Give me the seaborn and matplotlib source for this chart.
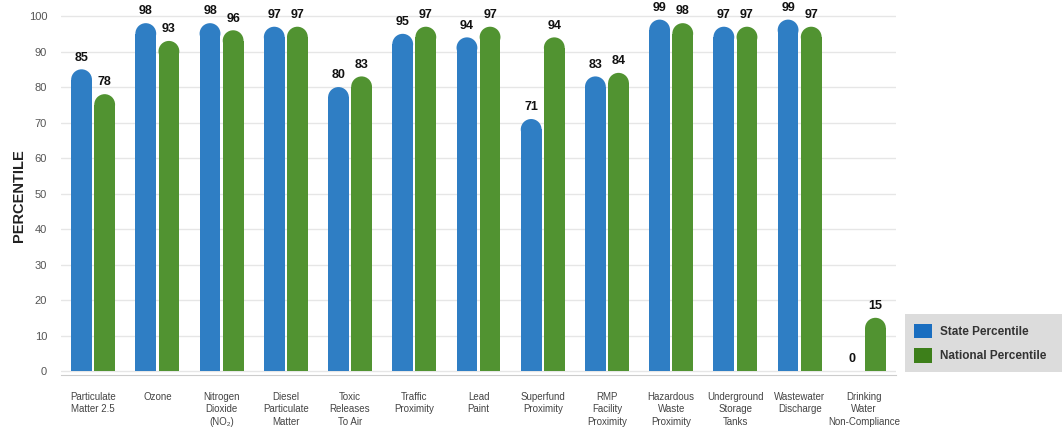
import numpy as np
import pandas as pd
import matplotlib
matplotlib.use("Agg")
import matplotlib.pyplot as plt
import seaborn as sns
from matplotlib.patches import Ellipse, Patch

# ---- data ----
categories = [
    "Particulate\nMatter 2.5", "Ozone", "Nitrogen\nDioxide\n(NO\u2082)",
    "Diesel\nParticulate\nMatter", "Toxic\nReleases\nTo Air", "Traffic\nProximity",
    "Lead\nPaint", "Superfund\nProximity", "RMP\nFacility\nProximity",
    "Hazardous\nWaste\nProximity", "Underground\nStorage\nTanks",
    "Wastewater\nDischarge", "Drinking\nWater\nNon-Compliance",
]
state_pct = [85, 98, 98, 97, 80, 95, 94, 71, 83, 99, 97, 99, 0]
national_pct = [78, 93, 96, 97, 83, 97, 97, 94, 84, 98, 97, 97, 15]
series_names = ["State Percentile", "National Percentile"]
yticks = list(range(0, 101, 10))

bar_colors = ["#2f7ec4", "#519331"]
legend_colors = ["#1a6ec0", "#3d7f1a"]

df = pd.DataFrame({
    "category": categories * 2,
    "value": state_pct + national_pct,
    "series": [series_names[0]] * len(categories) + [series_names[1]] * len(categories),
})

sns.set_style("white")
plt.rcParams["font.family"] = ["Liberation Sans", "DejaVu Sans"]

fig = plt.figure(figsize=(10.62, 4.30), dpi=100)
ax = fig.add_axes([61 / 1062, (430 - 375.3) / 430, 835 / 1062, (375.3 - 15) / 430])

sns.barplot(data=df, x="category", y="value", hue="series", palette=bar_colors,
            width=0.72, gap=0.1, legend=False, ax=ax, saturation=1, linewidth=0)

ax.set_xlim(-0.5, len(categories) - 0.5)
ax.set_ylim(-1.2, 100.3)

# round the bar tops
px_x = ax.transData.transform([(1, 0)])[0][0] - ax.transData.transform([(0, 0)])[0][0]
px_y = ax.transData.transform([(0, 1)])[0][1] - ax.transData.transform([(0, 0)])[0][1]
for cont, col in zip(ax.containers, bar_colors):
    for bar in cont:
        v = bar.get_height()
        x = bar.get_x()
        w = bar.get_width()
        cx = x + w / 2
        if v > 0:
            ry = (w * px_x / 2) / px_y
            bar.set_height(max(v - ry, 0))
            ax.add_patch(Ellipse((cx, v - ry), w, 2 * ry, facecolor=col,
                                 edgecolor="none", linewidth=0, zorder=bar.get_zorder()))
        ax.text(cx, v + 1.6, f"{v:.0f}", ha="center", va="bottom",
                fontsize=9, fontweight="bold", color="#111111")

# grid & axes
ax.set_yticks(yticks)
ax.yaxis.grid(True, color="#e6e6e6", linewidth=1)
ax.set_axisbelow(True)
for s in ["top", "right", "left"]:
    ax.spines[s].set_visible(False)
ax.spines["bottom"].set_color("#cccccc")
ax.tick_params(axis="y", length=0, labelsize=8, labelcolor="#555555", pad=10)
ax.tick_params(axis="x", which="major", length=0, labelsize=7, labelcolor="#444444", pad=12)
ax.set_xticks(range(len(categories)))
ax.set_xticklabels(categories, linespacing=1.3)
ax.set_xticks(np.arange(-0.5, len(categories) - 0.4, 1), minor=True)
ax.tick_params(axis="x", which="minor", length=6, color="#cccccc", width=1)
ax.set_xlabel("")
ax.set_ylabel("PERCENTILE", fontsize=10.5, fontweight="bold", color="#222222")
ax.yaxis.set_label_coords(-0.042, 0.5)

# legend
handles = [Patch(facecolor=c, edgecolor="none") for c in legend_colors]
leg = fig.legend(handles, series_names, loc="lower left",
                 bbox_to_anchor=(905 / 1062, (430 - 372) / 430, 157 / 1062, 64 / 430),
                 mode="expand", borderaxespad=0, frameon=True, fancybox=False,
                 handlelength=1.5, handleheight=1.5, handletextpad=0.7, borderpad=0.8,
                 labelspacing=0.85, prop={"size": 8.5, "weight": "bold"})
leg.get_frame().set_facecolor("#d4d4d4")
leg.get_frame().set_edgecolor("none")
for t in leg.get_texts():
    t.set_color("#333333")

fig.savefig("out.png", dpi=100)
